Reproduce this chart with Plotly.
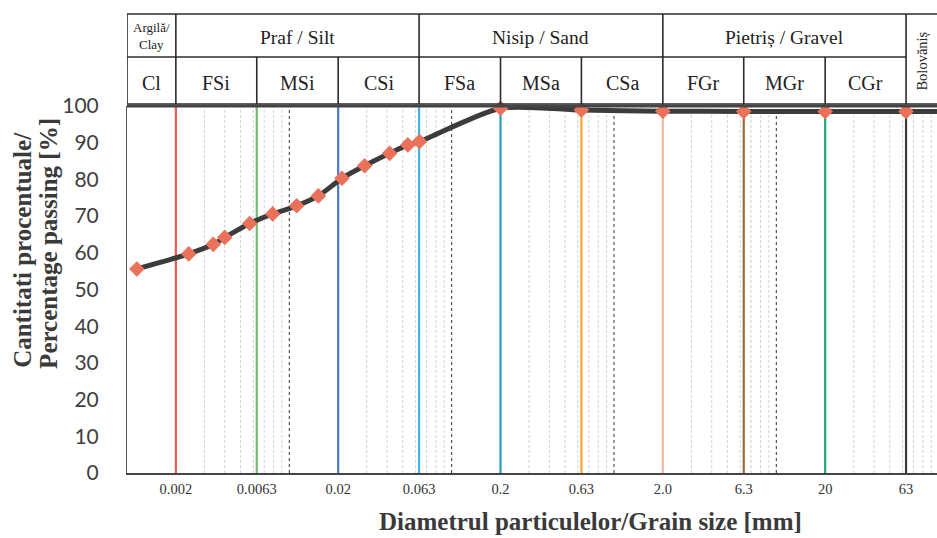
import numpy as np
import plotly.graph_objects as go

# ---------------- data ----------------
grain_size_mm = [0.00115, 0.0024, 0.0034, 0.0040, 0.0057, 0.0079, 0.0111, 0.0151,
                 0.0211, 0.0291, 0.0415, 0.0537, 0.0634, 0.2, 0.63, 2.0, 6.3, 20, 63, 100]
passing_pct = [55.6, 59.7, 62.3, 64.2, 68.0, 70.6, 72.8, 75.5,
               80.3, 83.7, 87.1, 89.4, 90.3, 99.4, 98.9, 98.6, 98.5, 98.5, 98.5, 98.5]

boundary_mm = [0.002, 0.0063, 0.02, 0.063, 0.2, 0.63, 2.0, 6.3, 20, 63]
boundary_labels = ["0.002", "0.0063", "0.02", "0.063", "0.2", "0.63", "2.0", "6.3", "20", "63"]
boundary_colors = ["#EE5A50", "#6DBE6A", "#4A78CC", "#40B4E4", "#2C9BB8",
                   "#F7A62B", "#F2B7A0", "#9A6A3C", "#1FA67E", "#3A3A3A"]

decades_mm = [0.01, 0.1, 1, 10]
x_min, x_max = 0.001, 100

group_labels = ["Argilă/<br>Clay", "Praf / Silt", "Nisip / Sand", "Pietriș / Gravel", "Bolovăniș"]
group_edges = [0.001, 0.002, 0.063, 2.0, 63, 100]
sub_labels = ["Cl", "FSi", "MSi", "CSi", "FSa", "MSa", "CSa", "FGr", "MGr", "CGr"]
sub_edges = [0.001, 0.002, 0.0063, 0.02, 0.063, 0.2, 0.63, 2.0, 6.3, 20, 63]

y_ticks = list(range(0, 101, 10))
y_title_lines = ["Cantitati procentuale/", "Percentage passing [%]"]
x_title = "Diametrul particulelor/Grain size [mm]"

# ---------------- figure ----------------
fig = go.Figure()
shapes = []

# minor log grid
for d in [0.001, 0.01, 0.1, 1, 10]:
    for k in range(2, 10):
        shapes.append(dict(type="line", xref="x", yref="y", x0=k * d, x1=k * d, y0=0, y1=100,
                           line=dict(color="#d4d4d4", width=1, dash="3px,2px"), layer="below"))
# decade dotted lines
for d in decades_mm:
    shapes.append(dict(type="line", xref="x", yref="y", x0=d, x1=d, y0=0, y1=100,
                       line=dict(color="#333333", width=1, dash="dot"), layer="below"))
# coloured class boundaries
for b, c in zip(boundary_mm, boundary_colors):
    shapes.append(dict(type="line", xref="x", yref="y", x0=b, x1=b, y0=0, y1=100,
                       line=dict(color=c, width=2.2), layer="below"))

# header table
H_TOP, H_MID, H_BOT = 1.2507, 1.1335, 1.0054
hdr_line = dict(color="#2b2b2b", width=1.6)
shapes.append(dict(type="line", xref="x", yref="paper", x0=x_min, x1=x_max, y0=H_TOP, y1=H_TOP, line=hdr_line))
shapes.append(dict(type="line", xref="x", yref="paper", x0=x_min, x1=group_edges[-2], y0=H_MID, y1=H_MID, line=hdr_line))
shapes.append(dict(type="line", xref="x", yref="paper", x0=x_min, x1=x_max, y0=H_BOT, y1=H_BOT, line=hdr_line))
for e in group_edges[:-1]:
    shapes.append(dict(type="line", xref="x", yref="paper", x0=e, x1=e, y0=H_BOT, y1=H_TOP, line=hdr_line))
for e in sub_edges:
    if e not in group_edges:
        shapes.append(dict(type="line", xref="x", yref="paper", x0=e, x1=e, y0=H_BOT, y1=H_MID, line=hdr_line))
# thick top border of plot area
shapes.append(dict(type="line", xref="x", yref="paper", x0=x_min, x1=x_max, y0=1.0, y1=1.0,
                   line=dict(color="#444444", width=3)))

annotations = []
serif = "Liberation Serif, Times New Roman, serif"
for i, lab in enumerate(group_labels):
    xc = (np.log10(group_edges[i]) + np.log10(group_edges[i + 1])) / 2
    if lab.startswith("Argil"):
        annotations.append(dict(x=xc, y=1.19, xref="x", yref="paper", text=lab, showarrow=False,
                                xanchor="center", yanchor="middle",
                                font=dict(family=serif, size=13, color="#222"), align="center"))
    elif lab.startswith("Bolov"):
        annotations.append(dict(x=xc, y=1.122, xref="x", yref="paper", text=lab, showarrow=False,
                                xanchor="center", yanchor="middle", textangle=-90,
                                font=dict(family=serif, size=14.5, color="#222")))
    else:
        annotations.append(dict(x=xc, y=1.187, xref="x", yref="paper", text=lab, showarrow=False,
                                xanchor="center", yanchor="middle",
                                font=dict(family=serif, size=19.5, color="#222")))
for i, lab in enumerate(sub_labels):
    xc = (np.log10(sub_edges[i]) + np.log10(sub_edges[i + 1])) / 2
    annotations.append(dict(x=xc, y=1.064, xref="x", yref="paper", text=lab, showarrow=False,
                            xanchor="center", yanchor="middle",
                            font=dict(family=serif, size=20, color="#222")))

# axis titles
for txt, xp, yp in zip(y_title_lines, [-0.1284, -0.0963], [0.608, 0.627]):
    annotations.append(dict(x=xp, y=yp, xref="paper", yref="paper", showarrow=False, textangle=-90,
                            xanchor="center", yanchor="middle", text="<b>" + txt + "</b>",
                            font=dict(family=serif, size=25, color="#3a3a3a")))
annotations.append(dict(x=0.572, y=-0.133, xref="paper", yref="paper", showarrow=False,
                        xanchor="center", yanchor="middle", text="<b>" + x_title + "</b>",
                        font=dict(family=serif, size=25, color="#3a3a3a")))

fig.add_trace(go.Scatter(
    x=grain_size_mm, y=passing_pct, mode="lines+markers",
    line=dict(color="#3C3C3C", width=5, shape="spline", smoothing=0.7),
    marker=dict(symbol="diamond", size=12, color="#EA725A"),
    cliponaxis=False, showlegend=False, hoverinfo="skip"))

fig.update_layout(
    width=937, height=538,
    margin=dict(l=127, r=0, t=106, b=65),
    paper_bgcolor="white", plot_bgcolor="white",
    shapes=shapes, annotations=annotations,
    xaxis=dict(type="log", range=[np.log10(x_min), 1.99], tickvals=boundary_mm, ticktext=boundary_labels,
               showgrid=False, zeroline=False, showline=True, linecolor="#444444", linewidth=2,
               ticks="", ticklabelstandoff=2,
               tickfont=dict(family=serif, size=14.5, color="#333")),
    yaxis=dict(range=[0, 100], tickvals=y_ticks, showgrid=False, zeroline=False,
               showline=True, linecolor="#555555", linewidth=1, ticks="", ticklabelstandoff=23,
               tickfont=dict(family="Lato, sans-serif", size=21, color="#404040")),
)

fig.write_html("out.html")
